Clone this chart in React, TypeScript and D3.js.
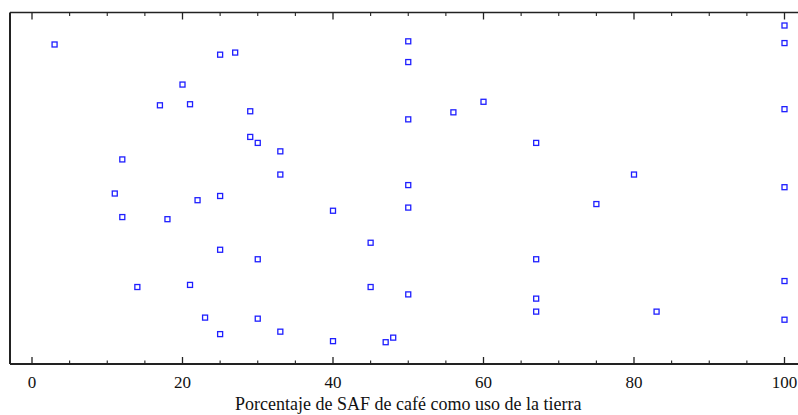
import React from "react";
import * as d3 from "d3";

// Percent of coffee agroforestry (SAF) as land use
const xValues = [
  3, 25, 27, 20, 17, 21, 29, 29, 30, 12, 11, 22, 25,
  50, 50, 60, 56, 50, 33, 33, 50, 100, 100, 100, 67, 80, 100,
  12, 18, 25, 30, 14, 21, 23, 30, 25, 40, 50, 45, 45, 50,
  33, 40, 47, 48, 75, 67, 67, 67, 83, 100, 100,
];
// Vertical jitter position (arbitrary, no axis)
const yValues = [
  90.9, 88.0, 88.6, 79.5, 73.6, 73.9, 71.9, 64.6, 62.9, 58.2, 48.5, 46.6, 47.8,
  91.8, 85.9, 74.6, 71.6, 69.6, 60.5, 53.9, 50.9, 96.3, 91.3, 72.5, 62.9, 53.9, 50.3,
  41.8, 41.2, 32.5, 29.8, 21.9, 22.5, 13.2, 12.9, 8.5, 43.6, 44.5, 34.5, 21.9, 19.8,
  9.2, 6.5, 6.2, 7.5, 45.5, 29.8, 18.6, 14.9, 14.9, 23.6, 12.6,
];
const xTickLabels = [0, 20, 40, 60, 80, 100];
const xLabel = "Porcentaje de SAF de café como uso de la tierra";

export default function App() {
  const W = 798;
  const H = 415;
  const left = 10;
  const top = 12.5;
  const bottom = 364;
  const x = d3.scaleLinear().domain([0, 100]).range([32, 784.5]);
  const y = d3.scaleLinear().domain([0, 100]).range([bottom, top]);
  const minor = d3.range(0, 101, 5).filter((v) => v % 20 !== 0);
  const pts = xValues.map((v, i) => ({ x: v, y: yValues[i] }));
  const font = "'Liberation Serif', 'Times New Roman', serif";
  const axisColor = "#222";
  return (
    <svg
      width={W}
      height={H}
      style={{ position: "absolute", left: 0, top: 0, background: "#fff" }}
    >
      {/* frame */}
      <line x1={left} x2={W + 10} y1={top} y2={top} stroke={axisColor} strokeWidth={1.5} />
      <line x1={left} x2={W + 10} y1={bottom} y2={bottom} stroke={axisColor} strokeWidth={2} />
      <line x1={left} x2={left} y1={top} y2={bottom} stroke={axisColor} strokeWidth={2} />
      {/* ticks */}
      {xTickLabels.map((t) => (
        <g key={"M" + t}>
          <line x1={x(t)} x2={x(t)} y1={top} y2={top + 7} stroke={axisColor} strokeWidth={1.3} />
          <line x1={x(t)} x2={x(t)} y1={bottom} y2={bottom - 7} stroke={axisColor} strokeWidth={1.3} />
          <text
            x={x(t)}
            y={388}
            textAnchor="middle"
            fontFamily={font}
            fontSize={17}
            fill="#111"
          >
            {t}
          </text>
        </g>
      ))}
      {minor.map((t) => (
        <g key={"m" + t}>
          <line x1={x(t)} x2={x(t)} y1={top} y2={top + 3.5} stroke={axisColor} strokeWidth={1.1} />
          <line x1={x(t)} x2={x(t)} y1={bottom} y2={bottom - 3.5} stroke={axisColor} strokeWidth={1.1} />
        </g>
      ))}
      {/* axis label */}
      <text
        x={x(50)}
        y={410}
        textAnchor="middle"
        fontFamily={font}
        fontSize={18}
        fill="#111"
      >
        {xLabel}
      </text>
      {/* points */}
      {pts.map((p, i) => (
        <rect
          key={i}
          x={x(p.x) - 2.5}
          y={y(p.y) - 2.5}
          width={5}
          height={5}
          fill="#fff"
          stroke="#1f1fff"
          strokeWidth={1.3}
        />
      ))}
    </svg>
  );
}
